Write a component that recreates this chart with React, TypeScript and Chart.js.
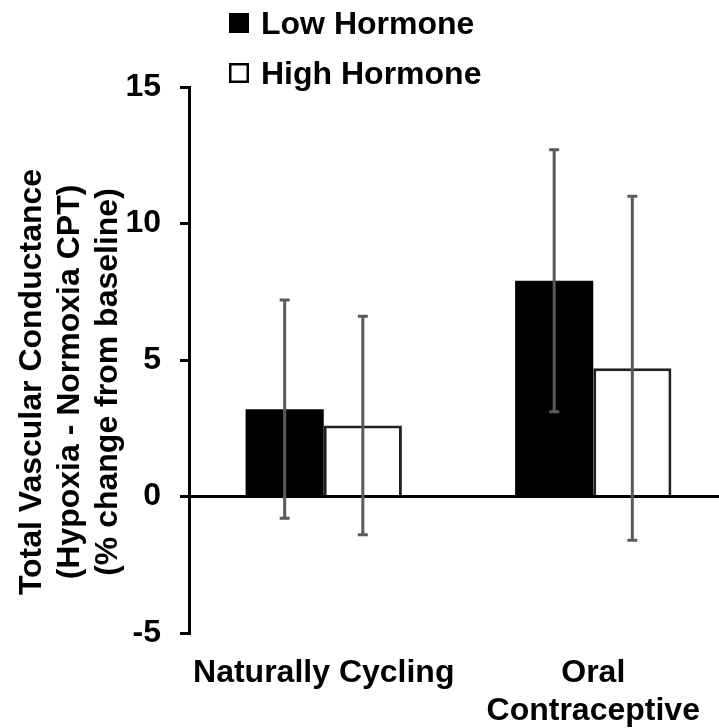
import React, { useEffect, useRef } from "react";
import { Chart, registerables } from "chart.js";

Chart.register(...registerables);

const categories: (string | string[])[] = ["Naturally Cycling", ["Oral", "Contraceptive"]];
const seriesNames = ["Low Hormone", "High Hormone"];
const lowHormone = [3.2, 7.9];
const highHormone = [2.6, 4.7];
const lowHormoneErr = [4.0, 4.8];
const highHormoneErr = [4.0, 6.3];
const yTitleLines = [
  "Total Vascular Conductance",
  "(Hypoxia - Normoxia CPT)",
  "(% change from baseline)",
];

const FONT = "'Liberation Sans', Arial, sans-serif";

const errorBarPlugin = {
  id: "errorBars",
  afterDatasetsDraw(chart: any) {
    const { ctx } = chart;
    const y = chart.scales.y;
    chart.data.datasets.forEach((ds: any, i: number) => {
      const meta = chart.getDatasetMeta(i);
      meta.data.forEach((bar: any, j: number) => {
        const v = ds.data[j];
        const e = ds.errors[j];
        const top = y.getPixelForValue(v + e);
        const bot = y.getPixelForValue(v - e);
        ctx.save();
        ctx.strokeStyle = "#5a5a5a";
        ctx.lineWidth = 3;
        ctx.beginPath();
        ctx.moveTo(bar.x, top);
        ctx.lineTo(bar.x, bot);
        ctx.moveTo(bar.x - 5, top);
        ctx.lineTo(bar.x + 5, top);
        ctx.moveTo(bar.x - 5, bot);
        ctx.lineTo(bar.x + 5, bot);
        ctx.stroke();
        ctx.restore();
      });
    });
  },
};

const annotationPlugin = {
  id: "annotations",
  afterDraw(chart: any) {
    const { ctx } = chart;
    ctx.save();
    // legend
    ctx.font = `bold 32px ${FONT}`;
    ctx.textAlign = "left";
    ctx.textBaseline = "alphabetic";
    chart.data.datasets.forEach((ds: any, i: number) => {
      const sy = 13 + i * 50;
      if (ds.backgroundColor === "#000000") {
        ctx.fillStyle = "#000";
        ctx.fillRect(229, sy, 20, 20);
      } else {
        ctx.fillStyle = "#fff";
        ctx.fillRect(229, sy, 20, 20);
        ctx.strokeStyle = "#000";
        ctx.lineWidth = 2.5;
        ctx.strokeRect(230.25, sy + 1.25, 17.5, 17.5);
      }
      ctx.fillStyle = "#000";
      ctx.fillText(ds.label, 261, sy + 21);
    });
    // y title
    const baselines = [41, 79, 117];
    yTitleLines.forEach((line, i) => {
      ctx.save();
      ctx.translate(baselines[i], 382);
      ctx.rotate(-Math.PI / 2);
      ctx.textAlign = "center";
      ctx.textBaseline = "alphabetic";
      ctx.fillStyle = "#000";
      ctx.fillText(line, 0, 0);
      ctx.restore();
    });
    ctx.restore();
  },
};

export default function App() {
  const ref = useRef<HTMLCanvasElement | null>(null);
  useEffect(() => {
    if (!ref.current) return;
    const chart = new Chart(ref.current, {
      type: "bar",
      data: {
        labels: categories as any,
        datasets: [
          {
            label: seriesNames[0],
            data: lowHormone,
            errors: lowHormoneErr,
            backgroundColor: "#000000",
            borderWidth: 0,
            categoryPercentage: 0.58,
            barPercentage: 1.0,
          } as any,
          {
            label: seriesNames[1],
            data: highHormone,
            errors: highHormoneErr,
            backgroundColor: "#ffffff",
            borderColor: "#222222",
            borderWidth: 3,
            categoryPercentage: 0.58,
            barPercentage: 1.0,
          } as any,
        ],
      },
      options: {
        responsive: false,
        animation: false,
        layout: { padding: { top: 87, left: 0, right: 0, bottom: 0 } },
        plugins: {
          legend: { display: false },
          tooltip: { enabled: false },
          title: { display: false },
        },
        scales: {
          x: {
            position: "bottom",
            grid: { display: false, drawTicks: false },
            border: { display: false },
            ticks: {
              color: "#000",
              font: { family: FONT, size: 32, weight: "bold" },
              padding: 21,
              maxRotation: 0,
              autoSkip: false,
            },
            afterFit(scale: any) {
              scale.height = 95;
            },
          },
          y: {
            min: -5,
            max: 15,
            grid: {
              drawOnChartArea: true,
              color: (c: any) => (c.tick && c.tick.value === 0 ? "#000" : "rgba(0,0,0,0)"),
              tickColor: "#000",
              tickLength: 9,
              lineWidth: 3,
            },
            border: { display: true, color: "#000", width: 3 },
            ticks: {
              stepSize: 5,
              color: "#000",
              font: { family: FONT, size: 32, weight: "bold" },
              padding: 19,
            },
            afterFit(scale: any) {
              scale.width = 189;
            },
          },
        },
      } as any,
      plugins: [errorBarPlugin, annotationPlugin],
    });
    return () => chart.destroy();
  }, []);
  return (
    <div
      style={{
        position: "absolute",
        left: 0,
        top: 0,
        width: 719,
        height: 728,
        overflow: "hidden",
        background: "#fff",
      }}
    >
      <canvas ref={ref} width={728} height={728} style={{ display: "block" }} />
    </div>
  );
}
